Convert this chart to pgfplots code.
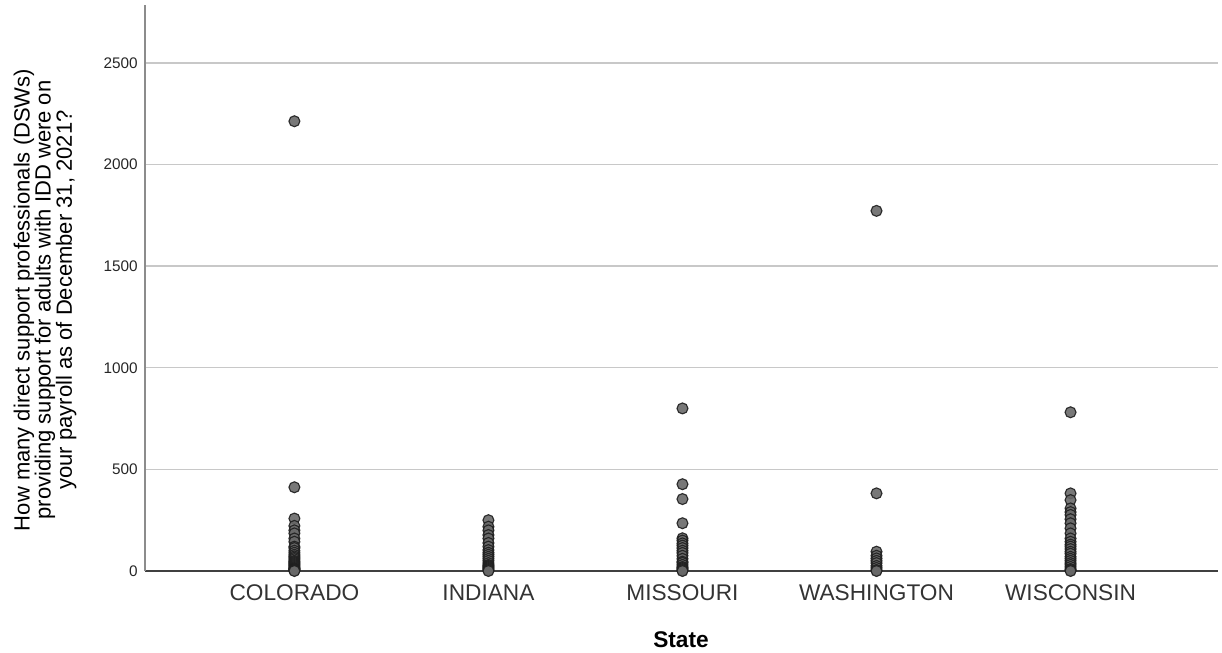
\documentclass[border=0pt]{standalone}
\usepackage{pgfplots}
\pgfplotsset{compat=1.18}
\usepackage{fontspec}
\setmainfont{Liberation Sans}
\definecolor{gridc}{RGB}{200,200,200}
\definecolor{markfill}{RGB}{105,105,105}
\definecolor{markdraw}{RGB}{30,30,30}
\begin{document}
\begin{tikzpicture}
\useasboundingbox (0pt,0pt) rectangle (916.5pt,489.75pt);
\begin{axis}[
  at={(108.75pt,61.5pt)}, anchor=south west,
  scale only axis,
  width=804.75pt, height=424.5pt,
  xmin=-0.77, xmax=4.76,
  ymin=0, ymax=2785,
  xtick={0,1,2,3,4},
  xticklabels={COLORADO,INDIANA,MISSOURI,WASHINGTON,WISCONSIN},
  x tick label style={font=\fontsize{17}{19}\selectfont, yshift=-7pt, text=black!80},
  ytick={0,500,1000,1500,2000,2500},
  y tick label style={font=\fontsize{11.5}{13}\selectfont, xshift=-2pt, text=black!85},
  /pgf/number format/assume math mode=true,
  /pgf/number format/1000 sep={},
  major tick length=0pt,
  ymajorgrids,
  grid style={gridc, line width=1pt},
  axis x line*=bottom,
  axis y line*=left,
  x axis line style={black!75, line width=0.8pt, -},
  y axis line style={black!45, line width=0.8pt, -},
  clip=false,
]
\addplot[only marks, mark=*, mark size=4.1pt,
  mark options={fill=markfill, draw=markdraw, line width=0.85pt, opacity=0.9}]
coordinates {
(0,2213) (0,412) (0,258) (0,222) (0,200) (0,185) (0,160) (0,144) (0,120) (0,113) (0,100) (0,90) (0,80) (0,72) (0,65) (0,58) (0,50) (0,45) (0,40) (0,35) (0,30) (0,25) (0,20) (0,15) (0,12) (0,10) (0,8) (0,5) (0,3) (0,0)
(1,250) (1,218) (1,200) (1,177) (1,160) (1,138) (1,120) (1,103) (1,90) (1,80) (1,70) (1,60) (1,50) (1,39) (1,30) (1,25) (1,20) (1,15) (1,10) (1,5) (1,0)
(2,800) (2,427) (2,354) (2,235) (2,161) (2,150) (2,136) (2,125) (2,113) (2,100) (2,89) (2,75) (2,60) (2,46) (2,40) (2,30) (2,20) (2,15) (2,10) (2,5) (2,0)
(3,1772) (3,382) (3,95) (3,75) (3,62) (3,50) (3,39) (3,25) (3,15) (3,5) (3,0)
(4,781) (4,382) (4,349) (4,308) (4,290) (4,276) (4,255) (4,235) (4,210) (4,185) (4,160) (4,144) (4,130) (4,120) (4,108) (4,95) (4,85) (4,70) (4,60) (4,50) (4,39) (4,30) (4,20) (4,10) (4,5) (4,0)
};
\end{axis}
\node[font=\bfseries\fontsize{17}{19}\selectfont] at (510.75pt,9.75pt) {State};
\node[rotate=90, align=center, font=\fontsize{16.5}{15.8}\selectfont] at (33.75pt,264.75pt)
  {How many direct support professionals (DSWs)\\providing support for adults with IDD were on\\your payroll as of December 31, 2021?};
\end{tikzpicture}
\end{document}
